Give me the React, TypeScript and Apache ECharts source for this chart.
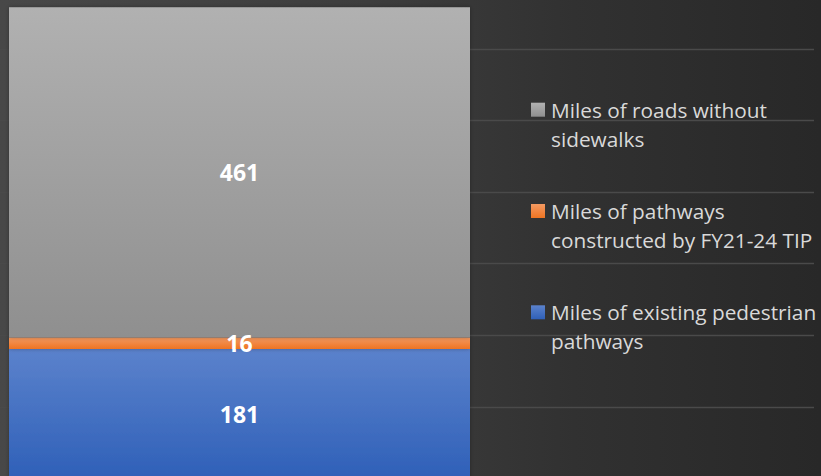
import React, { useEffect, useRef } from "react";
import * as echarts from "echarts";

const categories = ["Miles"];
const seriesNames = [
  "Miles of existing pedestrian pathways",
  "Miles of pathways constructed by FY21-24 TIP",
  "Miles of roads without sidewalks",
];
const existingPathways = [181];
const constructedPathways = [16];
const roadsWithoutSidewalks = [461];
const legendOrder = [2, 1, 0];
const legendLines = [
  ["Miles of existing pedestrian", "pathways"],
  ["Miles of pathways", "constructed by FY21-24 TIP"],
  ["Miles of roads without", "sidewalks"],
];
const yMin = 0;
const yMax = 700;
const yStep = 100;

const gradients = [
  ["#5b82cc", "#2f60b8"],
  ["#f49a62", "#ee7422"],
  ["#b1b1b1", "#8f8f8f"],
];

function grad(c: string[]) {
  return new echarts.graphic.LinearGradient(0, 0, 0, 1, [
    { offset: 0, color: c[0] },
    { offset: 1, color: c[1] },
  ]);
}

export default function App() {
  const ref = useRef<HTMLDivElement>(null);
  useEffect(() => {
    if (!ref.current) return;
    const chart = echarts.init(ref.current, undefined, { renderer: "svg" });
    const values = [existingPathways, constructedPathways, roadsWithoutSidewalks];
    const gridTop = -22.7;
    const gridHeight = 501.2;
    const labelFont = "Open Sans";

    const series: any[] = values.map((v, i) => ({
      name: seriesNames[i],
      type: "bar",
      stack: "total",
      xAxisIndex: 0,
      yAxisIndex: 0,
      barWidth: "100%",
      data: v,
      itemStyle: {
        color: grad(gradients[i]),
        shadowBlur: 4,
        shadowColor: "rgba(0,0,0,0.3)",
      },
      label: {
        show: true,
        position: "inside",
        color: "#ffffff",
        fontFamily: labelFont,
        fontWeight: "bold",
        fontSize: 23,
      },
      z: 3,
    }));
    series.push({
      type: "bar",
      xAxisIndex: 1,
      yAxisIndex: 1,
      data: [],
      silent: true,
    });

    const legendGraphics: any[] = [];
    legendOrder.forEach((si, k) => {
      const center = 109.7 + k * 101.3;
      legendGraphics.push({
        type: "rect",
        left: 531,
        top: center - 7,
        shape: { width: 14, height: 14 },
        style: { fill: grad(gradients[si]) },
        z: 10,
      });
      legendGraphics.push({
        type: "text",
        left: 551,
        top: center - 14.5,
        style: {
          text: legendLines[si].join("\n"),
          font: `20.8px "${labelFont}"`,
          fill: "#d9d9d9",
          lineHeight: 29,
          verticalAlign: "top",
        },
        z: 10,
      });
    });

    chart.setOption({
      animation: false,
      backgroundColor: "transparent",
      graphic: legendGraphics,
      grid: [
        { left: 9, right: 351, top: gridTop, height: gridHeight, outerBoundsMode: "none", containLabel: false },
        { left: 0, right: 7, top: gridTop, height: gridHeight, outerBoundsMode: "none", containLabel: false },
      ],
      xAxis: [
        { type: "category", data: categories, gridIndex: 0, show: false },
        { type: "category", data: categories, gridIndex: 1, show: false },
      ],
      yAxis: [
        {
          type: "value",
          gridIndex: 0,
          min: yMin,
          max: yMax,
          interval: yStep,
          show: false,
          splitLine: { show: false },
        },
        {
          type: "value",
          gridIndex: 1,
          min: yMin,
          max: yMax,
          interval: yStep,
          axisLine: { show: false },
          axisTick: { show: false },
          axisLabel: { show: false },
          splitLine: { show: true, lineStyle: { color: "#4a4a4a", width: 1.3 } },
          z: 0,
        },
      ],
      series,
    });
    return () => chart.dispose();
  }, []);
  return (
    <div
      style={{
        position: "fixed",
        left: 0,
        top: 0,
        width: 821,
        height: 476,
        background:
          "linear-gradient(90deg, #484848 0%, #3d3d3d 45%, #313131 70%, #282828 100%)",
      }}
    >
      <div ref={ref} style={{ width: 821, height: 476 }} />
    </div>
  );
}
